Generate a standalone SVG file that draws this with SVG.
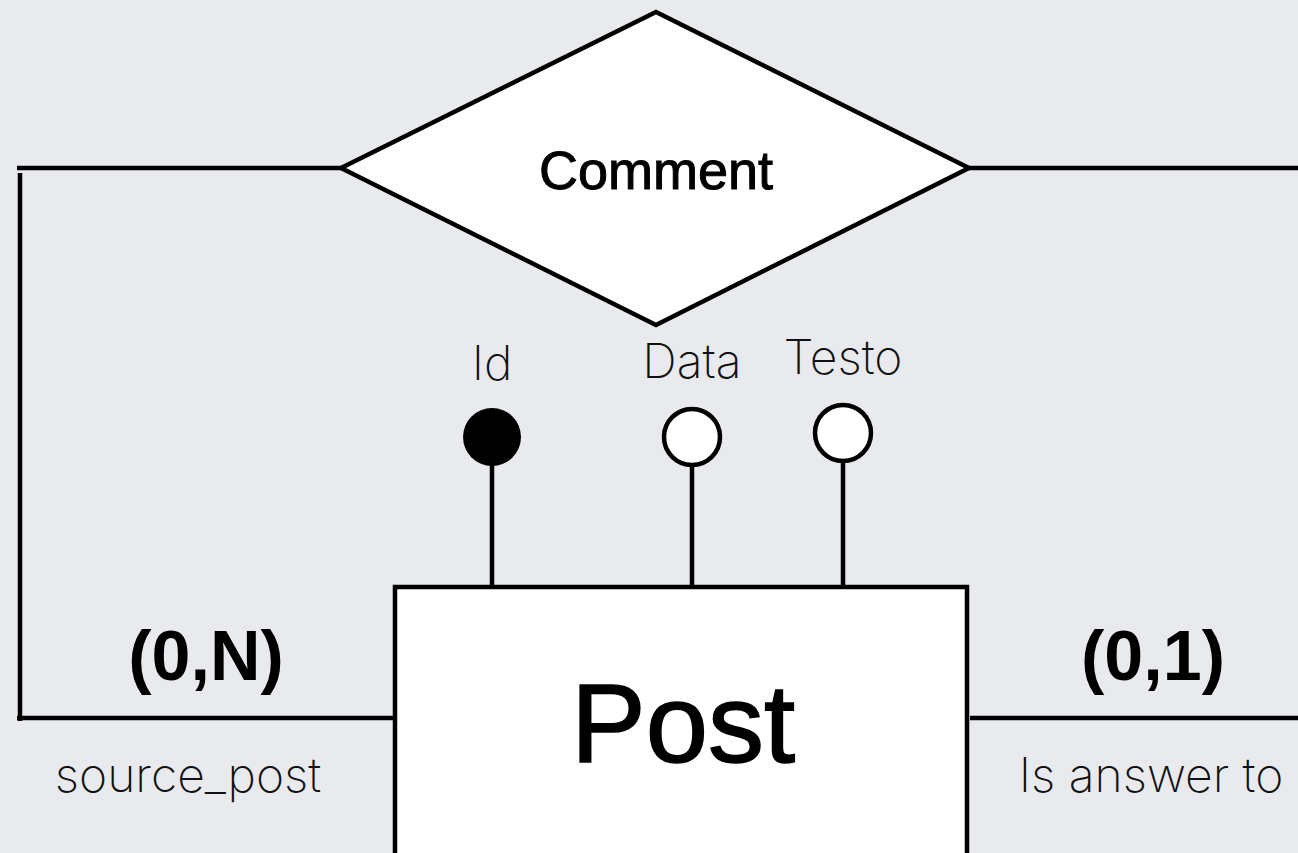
<svg xmlns="http://www.w3.org/2000/svg" width="1298" height="853" viewBox="0 0 1298 853">
  <style>
    .ln { stroke: #000; stroke-width: 4.5; fill: none; }
    .shape { stroke: #000; stroke-width: 4.5; fill: #fff; }
    .head { font-family: "Liberation Sans", Arial, sans-serif; fill: #000; stroke: #000; text-anchor: middle; }
    .bold { font-family: "Liberation Sans", Arial, sans-serif; font-weight: bold; fill: #000; text-anchor: middle; }
    .light { font-family: "Inter", "Open Sans", "Liberation Sans", sans-serif; font-weight: 200; fill: #111; text-anchor: middle; }
  </style>
  <rect width="1298" height="853" fill="#e9eaee"/>

  <!-- connectors -->
  <g id="connectors">
    <path class="ln" d="M17 168 H342"/>
    <path class="ln" d="M20 173 V721"/>
    <path class="ln" d="M17 718 H396"/>
    <path class="ln" d="M968 168 H1298"/>
    <path class="ln" d="M970 718 H1298"/>
    <path class="ln" d="M492 460 V592"/>
    <path class="ln" d="M692 462 V592"/>
    <path class="ln" d="M843 458 V588"/>
  </g>

  <!-- relationship -->
  <g id="comment">
    <polygon class="shape" points="341,168 656,12 969,168 656,325"/>
    <text class="head" x="656" y="189" font-size="54" stroke-width="1">Comment</text>
  </g>

  <!-- entity -->
  <g id="post">
    <rect class="shape" x="395" y="587" width="572" height="280"/>
    <text class="head" x="683" y="762" font-size="112" stroke-width="1.6">Post</text>
  </g>

  <!-- attributes -->
  <g id="attr-id">
    <circle cx="492" cy="437" r="29" fill="#000"/>
    <text class="light" x="492" y="380" font-size="48">Id</text>
  </g>
  <g id="attr-data">
    <circle class="shape" cx="692" cy="437" r="28"/>
    <text class="light" x="692" y="378" font-size="48">Data</text>
  </g>
  <g id="attr-testo">
    <circle class="shape" cx="843" cy="433" r="28"/>
    <text class="light" x="843" y="374" font-size="48">Testo</text>
  </g>

  <!-- cardinalities and role names -->
  <g id="card-left">
    <text class="bold" x="206" y="680" font-size="70">(0,N)</text>
    <text class="light" x="188" y="792" font-size="48">source_post</text>
  </g>
  <g id="card-right">
    <text class="bold" x="1153" y="680" font-size="70">(0,1)</text>
    <text class="light" x="1151" y="792" font-size="48">Is answer to</text>
  </g>
</svg>
